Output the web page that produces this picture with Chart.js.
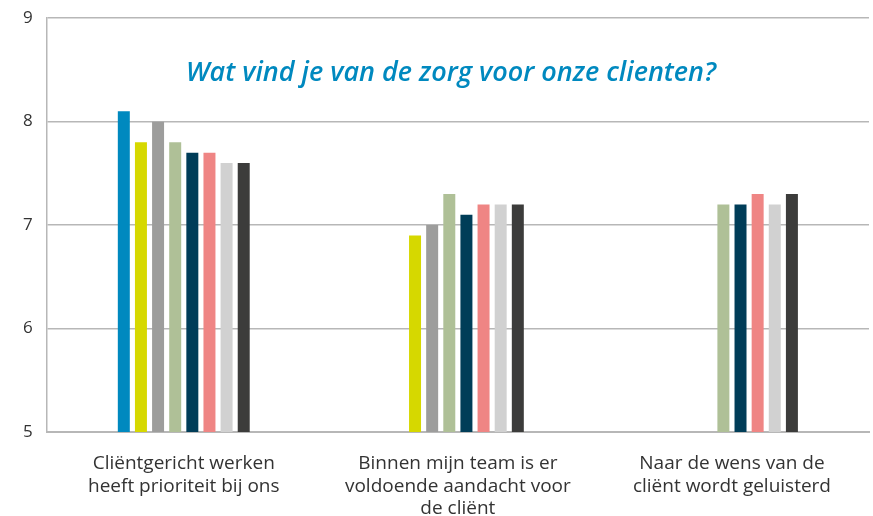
<!DOCTYPE html>
<html>
<head>
<meta charset="utf-8">
<script src="https://cdn.jsdelivr.net/npm/chart.js@4"></script>
<style>
  html, body { margin: 0; padding: 0; background: #fff; overflow: hidden; }
  #wrap { width: 873px; height: 522px; margin-top: -6px; }
</style>
</head>
<body>
<div id="wrap"><canvas id="zorgChart"></canvas></div>
<script>
const categories = [
    ["Cliëntgericht werken", "heeft prioriteit bij ons"],
    ["Binnen mijn team is er", "voldoende aandacht voor", "de cliënt"],
    ["Naar de wens van de", "cliënt wordt geluisterd"]
];

const series1 = [8.1, null, null];
const series2 = [7.8, 6.9, null];
const series3 = [8.0, 7.0, null];
const series4 = [7.8, 7.3, 7.2];
const series5 = [7.7, 7.1, 7.2];
const series6 = [7.7, 7.2, 7.3];
const series7 = [7.6, 7.2, 7.2];
const series8 = [7.6, 7.2, 7.3];

const seriesColors = ["#0089bf", "#d6d800", "#9d9d9c", "#afc097", "#003d58", "#ef8584", "#d1d1d1", "#3c3c3b"];
const yTicks = [5, 6, 7, 8, 9];
const chartTitle = "Wat vind je van de zorg voor onze clienten?";

const allSeries = [series1, series2, series3, series4, series5, series6, series7, series8];

// title sits inside the plot area, so draw it by hand (canvas is shifted up 6px)
const titlePlugin = {
    id: "innerTitle",
    afterDraw(chart) {
        const ctx = chart.ctx;
        ctx.save();
        ctx.font = "italic 600 27px 'Open Sans'";
        ctx.fillStyle = "#0089bf";
        ctx.textAlign = "center";
        ctx.textBaseline = "alphabetic";
        ctx.fillText(chartTitle, 451, 87);
        ctx.restore();
    }
};

const zorgCtx = document.getElementById("zorgChart");

new Chart(zorgCtx, {
    type: "bar",
    data: {
        labels: categories,
        datasets: allSeries.map((values, i) => ({
            label: "Serie " + (i + 1),
            data: values,
            backgroundColor: seriesColors[i],
            categoryPercentage: 0.5,
            barPercentage: 0.7
        }))
    },
    options: {
        responsive: true,
        maintainAspectRatio: false,
        animation: false,
        layout: {
            padding: { top: 0, right: 4, left: 9, bottom: 0 }
        },
        plugins: {
            legend: { display: false },
            tooltip: { enabled: false }
        },
        scales: {
            x: {
                afterFit(axis) {
                    axis.height = 84;
                },
                grid: { display: false },
                border: { display: true, color: "#b7b7b7", width: 2 },
                ticks: {
                    color: "#333",
                    font: { family: "'Open Sans'", size: 19, lineHeight: 1.2 },
                    padding: 12,
                    maxRotation: 0
                }
            },
            y: {
                min: 5,
                max: 9,
                afterBuildTicks(axis) {
                    axis.ticks = yTicks.map(v => ({ value: v }));
                },
                grid: { color: "#b7b7b7", lineWidth: 1.5, drawTicks: false },
                border: { display: true, color: "#b7b7b7", width: 1.5 },
                ticks: {
                    color: "#333",
                    font: { family: "'Open Sans'", size: 17 },
                    padding: 14
                }
            }
        }
    },
    plugins: [titlePlugin]
});
</script>
</body>
</html>
